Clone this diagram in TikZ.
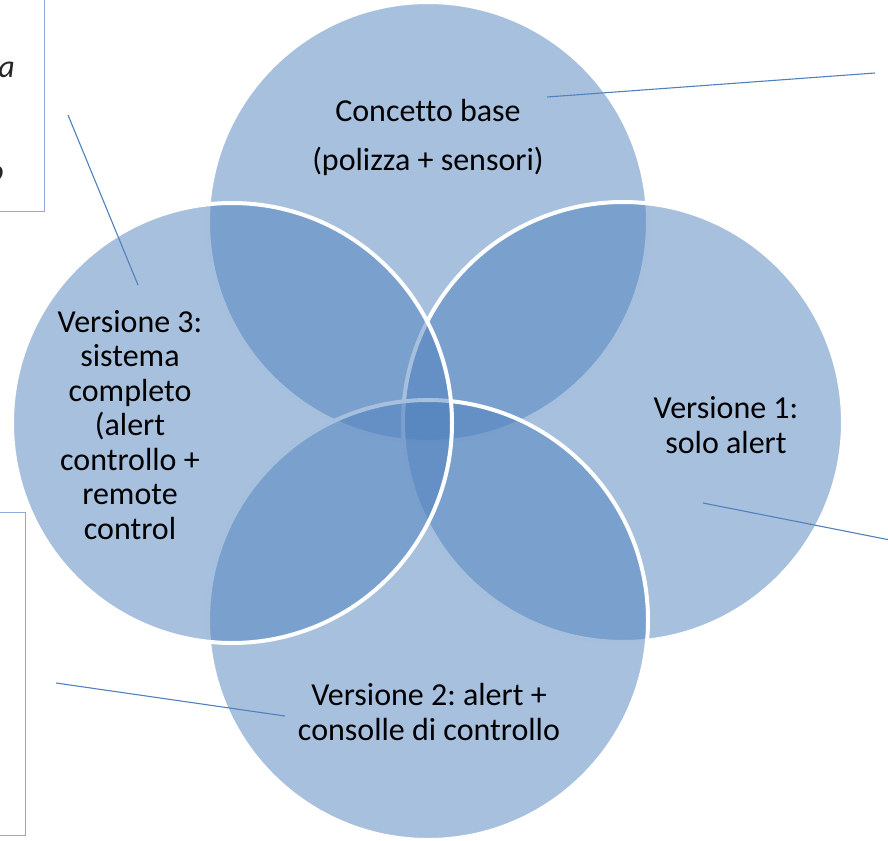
\documentclass[tikz,border=0pt]{standalone}
\usepackage{fontspec}
\setmainfont{Carlito}[Ligatures=NoCommon]
\frenchspacing
\definecolor{accent}{HTML}{4F81BD}
\definecolor{boxline}{HTML}{8EAADB}
\begin{document}
\begin{tikzpicture}[x=1pt,y=-1pt,
  petal/.style={circle, minimum size=440pt, inner sep=0pt, outer sep=0pt,
                fill=accent, fill opacity=0.5, draw=white, draw opacity=1, line width=4pt},
  label/.style={font=\fontsize{32}{34.5}\selectfont, align=center, text=black, inner sep=0pt},
  note/.style={font=\fontsize{32}{34.5}\selectfont\itshape, text=black!85, inner sep=0pt},
  callout/.style={draw=accent, line width=1.1pt},
  sidebox/.style={draw=boxline, line width=1.3pt, fill=none, inner sep=0pt}]
\useasboundingbox (0,0) rectangle (888,840);
\clip (0,0) rectangle (888,840);

% four overlapping petals, later ones lie over the earlier outlines
\node[petal] (base) at (428,222) {};
\node[petal] (v1)   at (623,422) {};
\node[petal] (v2)   at (428,620) {};
\node[petal] (v3)   at (232,423) {};

% texts inside the petals
\node[label] (tbase) at (428,137) {Concetto base\\[14.5pt](polizza + sensori)};
\node[label] (tv1)   at (726,425) {Versione 1:\\solo alert};
\node[label] (tv2)   at (429,712) {Versione 2: alert +\\consolle di controllo};
\node[label] (tv3)   at (130,425) {Versione 3:\\sistema\\completo\\(alert\\controllo +\\remote\\control};

% side note boxes running off the page
\node[sidebox, anchor=south east, minimum width=120pt, minimum height=240pt] (note1) at (45,212) {};
\node[sidebox, anchor=north east, minimum width=120pt, minimum height=323pt] (note2) at (26,512) {};
\node[note, anchor=base east] (n1a) at (15,78) {a};
\node[note, anchor=base east] (n1b) at (4,181) {o};
\node[note, anchor=base east] (n2a) at (3,725) {.};

% callout lines
\coordinate (c1s) at (68,115);  \coordinate (c1e) at (138,285);
\coordinate (c2s) at (547,97);  \coordinate (c2e) at (875,73);
\coordinate (c3s) at (703,503); \coordinate (c3e) at (890,540);
\coordinate (c4s) at (56,683);  \coordinate (c4e) at (285,716);
\draw[callout] (c1s) -- (c1e);
\draw[callout] (c2s) -- (c2e);
\draw[callout] (c3s) -- (c3e);
\draw[callout] (c4s) -- (c4e);
\end{tikzpicture}
\end{document}
